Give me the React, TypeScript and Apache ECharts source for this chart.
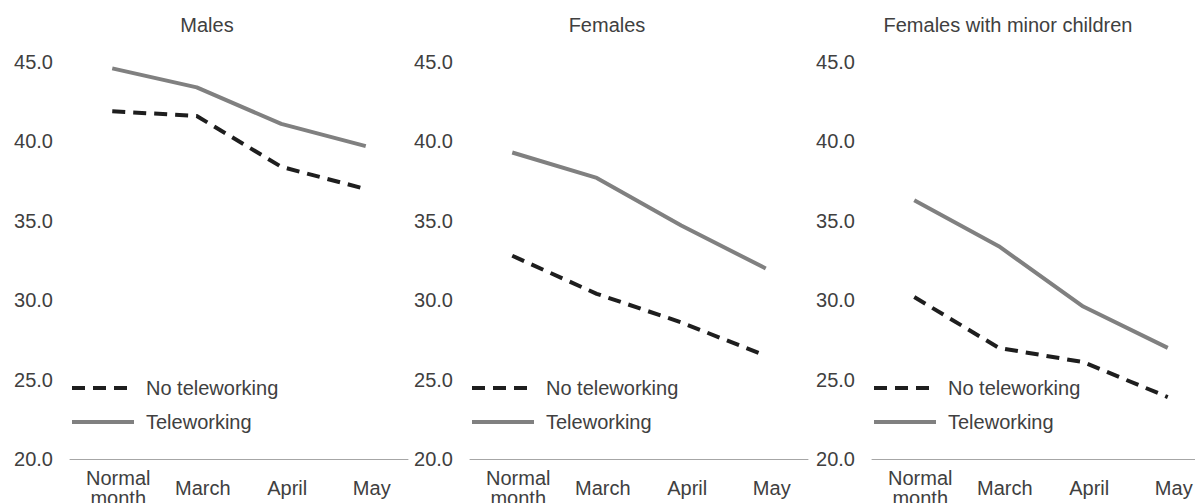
import React, { useEffect, useRef } from "react";
import * as echarts from "echarts";

const categories = ["Normal\nmonth", "March", "April", "May"];
const panelTitles = ["Males", "Females", "Females with minor children"];
const yTicks = { min: 20, max: 45, step: 5 };

const malesNoTele = [41.9, 41.6, 38.4, 37.0];
const malesTele = [44.6, 43.4, 41.1, 39.7];
const femalesNoTele = [32.8, 30.4, 28.6, 26.5];
const femalesTele = [39.3, 37.7, 34.7, 32.0];
const mothersNoTele = [30.2, 27.0, 26.1, 23.9];
const mothersTele = [36.3, 33.4, 29.6, 27.0];

const seriesNames = ["No teleworking", "Teleworking"];
const panelData = [
  [malesNoTele, malesTele],
  [femalesNoTele, femalesTele],
  [mothersNoTele, mothersTele],
];

const FONT = "Liberation Sans, Arial, sans-serif";
const TEXT = "#404040";
const gridLefts = [70, 470, 872];
const titleCenters = [207, 607, 1008];

export default function App() {
  const ref = useRef<HTMLDivElement>(null);
  useEffect(() => {
    if (!ref.current) return;
    const chart = echarts.init(ref.current, null, { renderer: "svg" });
    const grids = gridLefts.map((l) => ({
      left: l,
      width: 338,
      top: 62,
      bottom: 44,
      containLabel: false,
      outerBoundsMode: "none",
    }));
    const xAxes = gridLefts.map((_, i) => ({
      type: "category",
      gridIndex: i,
      data: categories,
      boundaryGap: true,
      axisTick: { show: false },
      axisLine: { lineStyle: { color: "#a6a6a6", width: 1 } },
      axisLabel: {
        fontFamily: FONT,
        fontSize: 20,
        lineHeight: 20,
        color: TEXT,
        verticalAlign: "middle",
        margin: 29,
        padding: [0, 0, 0, 12],
        interval: 0,
      },
    }));
    const yAxes = gridLefts.map((_, i) => ({
      type: "value",
      gridIndex: i,
      min: yTicks.min,
      max: yTicks.max,
      interval: yTicks.step,
      splitLine: { show: false },
      axisLine: { show: false },
      axisTick: { show: false },
      axisLabel: {
        fontFamily: FONT,
        fontSize: 20,
        color: TEXT,
        margin: 17,
        formatter: (v: number) => v.toFixed(1),
      },
    }));
    const series: any[] = [];
    panelData.forEach((pair, i) => {
      series.push({
        type: "line",
        name: seriesNames[0],
        xAxisIndex: i,
        yAxisIndex: i,
        data: pair[0],
        symbol: "none",
        lineStyle: { color: "#1e1e1e", width: 4, type: [13, 8], cap: "butt" },
        itemStyle: { color: "#1e1e1e" },
      });
      series.push({
        type: "line",
        name: seriesNames[1],
        xAxisIndex: i,
        yAxisIndex: i,
        data: pair[1],
        symbol: "none",
        lineStyle: { color: "#808080", width: 4 },
        itemStyle: { color: "#808080" },
      });
    });
    const legends = gridLefts.map((l) => ({
      orient: "vertical",
      left: l,
      top: 378,
      padding: 0,
      itemWidth: 62,
      itemHeight: 20,
      itemGap: 14,
      selectedMode: false,
      data: seriesNames,
      itemStyle: { opacity: 0 },
      lineStyle: { width: 4 },
      textStyle: {
        fontFamily: FONT,
        fontSize: 20,
        color: TEXT,
        padding: [0, 0, 0, 7],
      },
    }));
    const graphic = panelTitles.map((t, i) => ({
      type: "text",
      x: titleCenters[i],
      y: 25,
      style: {
        text: t,
        fontFamily: FONT,
        fontSize: 20,
        fill: TEXT,
        align: "center",
        verticalAlign: "middle",
        textAlign: "center",
        textVerticalAlign: "middle",
      },
    }));
    chart.setOption({
      animation: false,
      backgroundColor: "#ffffff",
      grid: grids,
      xAxis: xAxes,
      yAxis: yAxes,
      legend: legends,
      series,
      graphic,
    });
    return () => chart.dispose();
  }, []);
  return (
    <div
      ref={ref}
      style={{ position: "absolute", left: 0, top: 0, width: 1195, height: 503 }}
    />
  );
}
